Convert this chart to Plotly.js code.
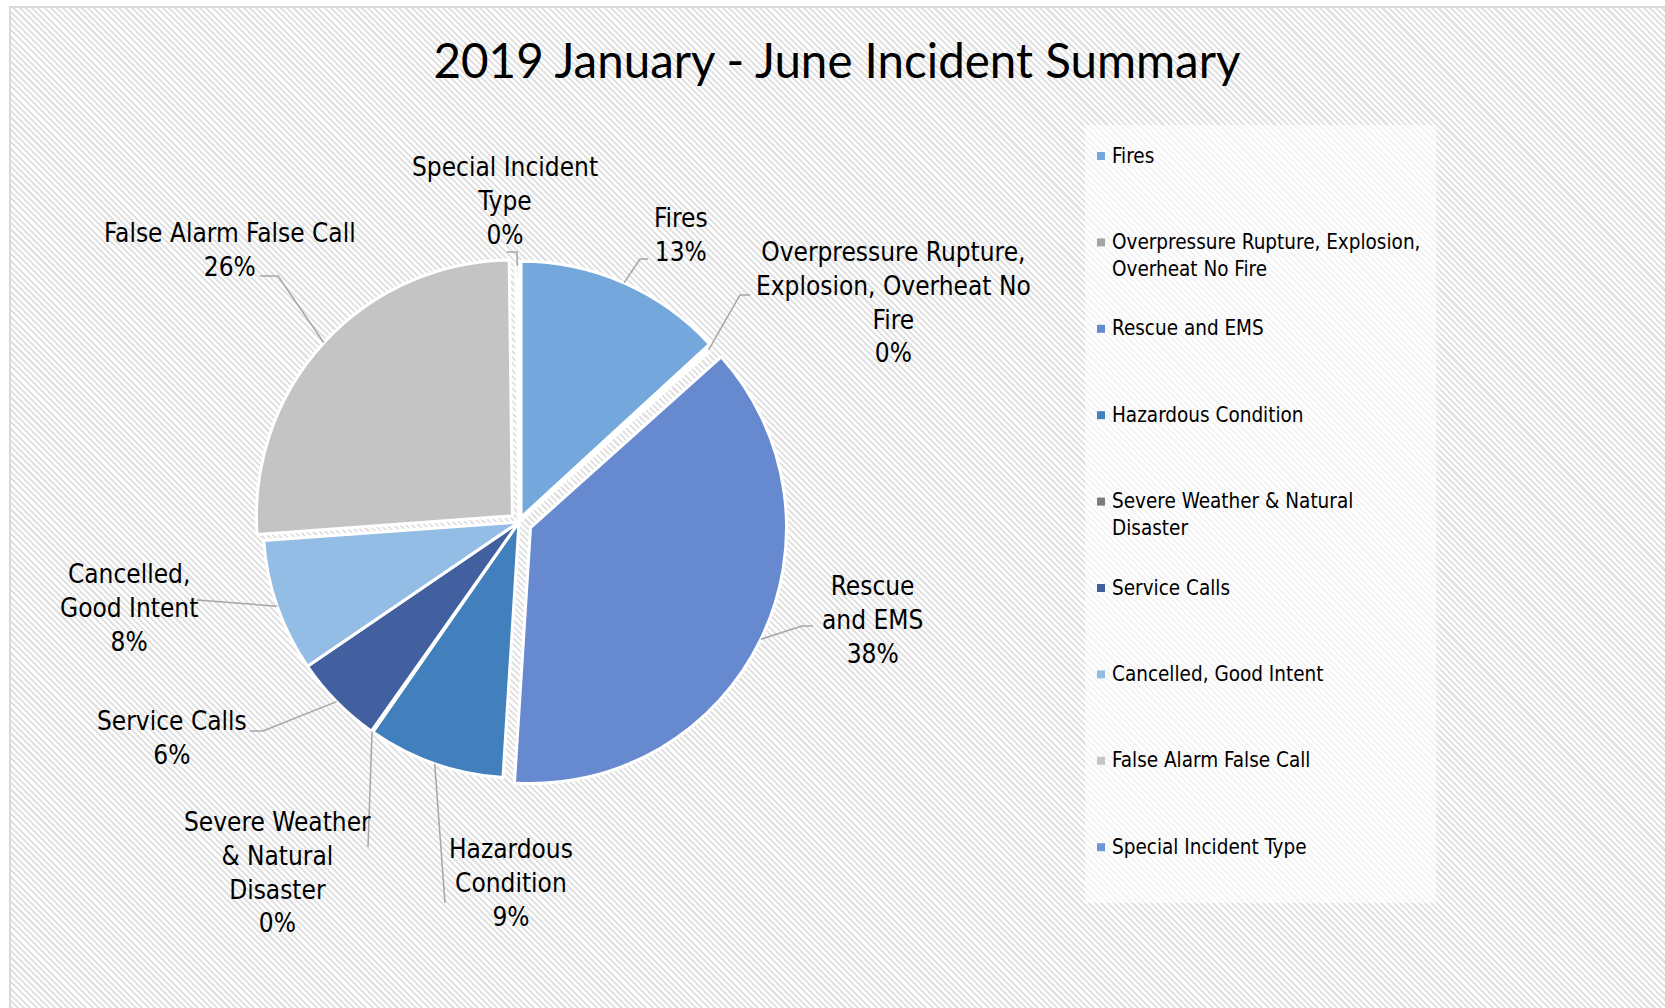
<!DOCTYPE html>
<html><head><meta charset="utf-8">
<script src="https://cdn.plot.ly/plotly-3.0.1.min.js"></script>
<style>
html,body{margin:0;padding:0;background:#fff;width:1665px;height:1008px;overflow:hidden;}
#bg{position:absolute;left:9px;top:6px;width:1700px;height:1060px;border-left:2px solid #d9d9d9;border-top:2px solid #d9d9d9;
background:repeating-linear-gradient(45deg,#ffffff 0px,#ffffff 2.2px,#e3e3e3 2.2px,#e3e3e3 4.4px);}
#chart{position:absolute;left:0;top:0;width:1665px;height:1008px;}
</style></head><body>
<div id="bg"></div><div id="chart"></div>
<script>
// ---- data ----
const categories = ["Fires","Overpressure Rupture, Explosion, Overheat No Fire","Rescue and EMS","Hazardous Condition","Severe Weather & Natural Disaster","Service Calls","Cancelled, Good Intent","False Alarm False Call","Special Incident Type"];
const values = [13.2, 0.2, 37.7, 8.7, 0.1, 5.7, 8.4, 26.0, 0.2];
const labelText = ["Fires","Overpressure Rupture,<br>Explosion, Overheat No<br>Fire","Rescue<br>and EMS","Hazardous<br>Condition","Severe Weather<br>& Natural<br>Disaster","Service Calls","Cancelled,<br>Good Intent","False Alarm False Call","Special Incident<br>Type"];
const legendText = ["Fires","Overpressure Rupture, Explosion,<br>Overheat No Fire","Rescue and EMS","Hazardous Condition","Severe Weather & Natural<br>Disaster","Service Calls","Cancelled, Good Intent","False Alarm False Call","Special Incident Type"];
const titleText = "2019 January - June Incident Summary";

// ---- style ----
const colors = ["#74a7dc","#a5a5a5","#6689cf","#4280bd","#7b7b7b","#42609f","#94bde6","#c4c4c4","#6f96d6"];
const pulls = [0.02,0,0.05,0,0,0,0,0.035,0];
const W=1665,H=1008, CX=519, CY=522, R=256;
const FONT="DejaVu Sans Condensed, DejaVu Sans, sans-serif";
const LFS=26, LLH=32.5;
// label positions: [center x, first line center y] in px
const labelPos = [[681,219],[893,253],[872,587],[511,850],[277,823],[172,722],[129,575],[230,234],[505,168]];
// leader waypoints after the slice edge point
const leaderPts = [[[640,259],[648,259]],[[740,295],[750,295]],[[802,626],[813,626]],[[445,903]],[[368,847]],[[263,731],[250,731]],[[197,600]],[[278,276],[260,276]],[[517,252],[507,252]]];

const px=x=>x/W, py=y=>1-y/H;
const maxPull=Math.max(...pulls);
const half=R*(1+maxPull);
const total=values.reduce((a,b)=>a+b,0);

const annotations=[], shapes=[];
// legend background
shapes.push({type:'rect',xref:'paper',yref:'paper',x0:px(1085),x1:px(1436),y0:py(903),y1:py(125),fillcolor:'rgba(255,255,255,0.6)',line:{width:0},layer:'below'});

let cum=0;
values.forEach((v,i)=>{
  const mid=(cum+v/2)/total*2*Math.PI; cum+=v;
  const r=R*(1+pulls[i]);
  const ex=CX+r*Math.sin(mid), ey=CY-r*Math.cos(mid);
  let d='M '+px(ex)+' '+py(ey);
  leaderPts[i].forEach(p=>{d+=' L '+px(p[0])+' '+py(p[1]);});
  shapes.push({type:'path',xref:'paper',yref:'paper',path:d,line:{color:'#a6a6a6',width:1.5}});
  const pct=Math.round(v/total*100)+'%';
  const txt=labelText[i]+'<br>'+pct;
  annotations.push({xref:'paper',yref:'paper',x:px(labelPos[i][0]),y:py(labelPos[i][1]-LFS*1.3/2-1),xanchor:'center',yanchor:'top',
    text:txt,showarrow:false,align:'center',font:{family:FONT,size:LFS,color:'#000'}});
});

// legend
const LEG_X=1097, LEG_Y0=156, LEG_STEP=86.4, LGFS=20.5, LGLH=LGFS*1.3;
categories.forEach((c,i)=>{
  const y=LEG_Y0+i*LEG_STEP;
  shapes.push({type:'rect',xref:'paper',yref:'paper',x0:px(LEG_X),x1:px(LEG_X+8),y0:py(y+4),y1:py(y-4),fillcolor:colors[i],line:{width:0}});
  annotations.push({xref:'paper',yref:'paper',x:px(LEG_X+13),y:py(y-LGLH/2-1),xanchor:'left',yanchor:'top',text:legendText[i],showarrow:false,align:'left',
    font:{family:FONT,size:LGFS,color:'#000'}});
});

const trace={type:'pie',labels:categories,values:values,sort:false,direction:'clockwise',rotation:0,
  pull:pulls,textinfo:'none',hoverinfo:'label+percent',
  marker:{colors:colors,line:{color:'#ffffff',width:3}},
  domain:{x:[(CX-half)/W,(CX+half)/W],y:[1-(CY+half)/H,1-(CY-half)/H]},showlegend:false};

const layout={width:W,height:H,margin:{l:0,r:0,t:0,b:0},paper_bgcolor:'rgba(0,0,0,0)',plot_bgcolor:'rgba(0,0,0,0)',
  showlegend:false,
  title:{text:titleText,font:{family:'Lato, sans-serif',size:47.5,color:'#000'},x:837/W,xanchor:'center',y:1-61/H,yanchor:'middle'},
  annotations:annotations,shapes:shapes};
Plotly.newPlot('chart',[trace],layout,{displayModeBar:false,staticPlot:true});
</script>
</body></html>
